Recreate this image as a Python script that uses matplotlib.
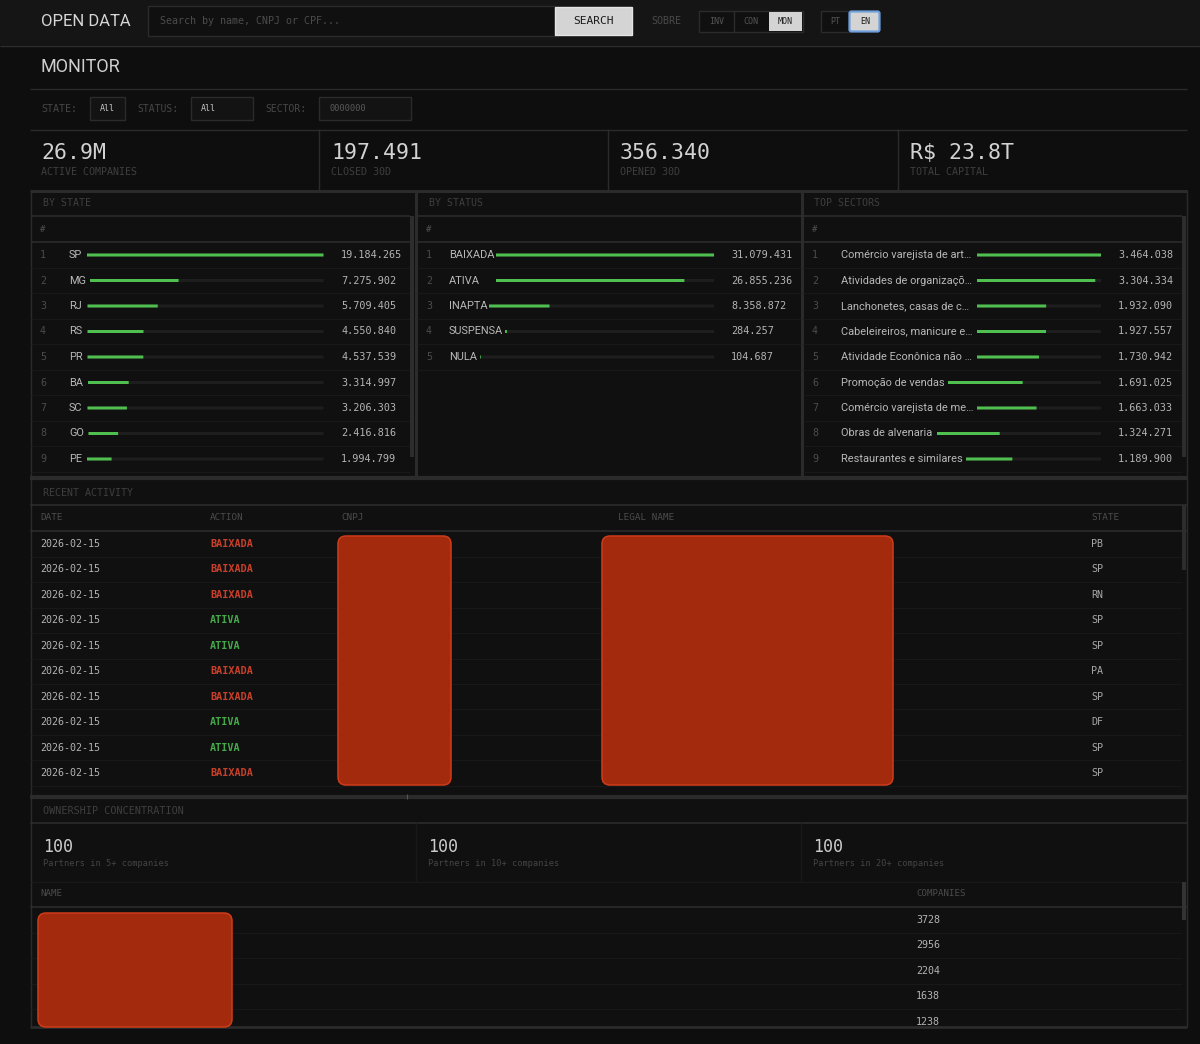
import matplotlib
matplotlib.use("Agg")
import matplotlib.pyplot as plt
from matplotlib.patches import FancyBboxPatch, Rectangle

# chart data
kpi_values = ["26.9M", "197.491", "356.340", "R$ 23.8T"]
kpi_labels = ["ACTIVE COMPANIES", "CLOSED 30D", "OPENED 30D", "TOTAL CAPITAL"]

states = ["SP", "MG", "RJ", "RS", "PR", "BA", "SC", "GO", "PE"]
state_counts = [19184265, 7275902, 5709405, 4550840, 4537539, 3314997, 3206303, 2416816, 1994799]

statuses = ["BAIXADA", "ATIVA", "INAPTA", "SUSPENSA", "NULA"]
status_counts = [31079431, 26855236, 8358872, 284257, 104687]

sectors = ["Comércio varejista de art…", "Atividades de organizaçõ…", "Lanchonetes, casas de c…",
           "Cabeleireiros, manicure e…", "Atividade Econônica não …", "Promoção de vendas",
           "Comércio varejista de me…", "Obras de alvenaria", "Restaurantes e similares"]
sector_counts = [3464038, 3304334, 1932090, 1927557, 1730942, 1691025, 1663033, 1324271, 1189900]

activity_date = "2026-02-15"
activity_actions = ["BAIXADA", "BAIXADA", "BAIXADA", "ATIVA", "ATIVA", "BAIXADA", "BAIXADA", "ATIVA", "ATIVA", "BAIXADA"]
activity_states = ["PB", "SP", "RN", "SP", "SP", "PA", "SP", "DF", "SP", "SP"]

owner_values = ["100", "100", "100"]
owner_labels = ["Partners in 5+ companies", "Partners in 10+ companies", "Partners in 20+ companies"]
owner_companies = [3728, 2956, 2204, 1638, 1238]

# track start of each row, the label column pushes it around
state_starts = [87, 90, 87.5, 87.5, 87.5, 88, 87.5, 88.5, 87]
status_starts = [496, 496, 489, 505, 480]
sector_starts = [977, 977, 977, 977, 977, 948, 977, 937, 966]

MONO = "DejaVu Sans Mono"
SANS = "Roboto"
LINE = "#2b2b2b"
THIN = "#181818"
GREEN = "#4fc04f"
RED = "#c8402a"

fig = plt.figure(figsize=(12, 10.44), dpi=100, facecolor="#0e0e0e")
ax = fig.add_axes([0, 0, 1, 1])
ax.set_xlim(0, 1200)
ax.set_ylim(1044, 0)
ax.axis("off")


def label(x, y, s, size, color="#c8c8c8", family=MONO, ha="left", **kw):
    ax.text(x, y, s, fontsize=size * 0.72, color=color, family=family, ha=ha, va="center", **kw)


def box(x0, y0, x1, y1, face="none", edge="none", lw=1.0, z=1):
    ax.add_patch(Rectangle((x0, y0), x1 - x0, y1 - y0, facecolor=face, edgecolor=edge, linewidth=lw, zorder=z))


def hline(y, x0=30, x1=1187, color=LINE, lw=1.0):
    ax.plot([x0, x1], [y, y], color=color, lw=lw, solid_capstyle="butt", zorder=2)


def vline(x, y0, y1, color=LINE, lw=1.0):
    ax.plot([x, x], [y0, y1], color=color, lw=lw, solid_capstyle="butt", zorder=2)


def redacted(x0, y0, x1, y1):
    ax.add_patch(FancyBboxPatch((x0 + 7, y0 + 7), x1 - x0 - 14, y1 - y0 - 14,
                                boxstyle="round,pad=7,rounding_size=8", facecolor="#a32a0c",
                                edgecolor="#cf3c1a", linewidth=1.1, zorder=5))


# page background and top bar
box(30, 190, 1187, 1027, face="#101010", z=0)
box(0, 0, 1200, 45, face="#151515", z=0)
hline(45.5, 0, 1200, color="#2e2e2e")
label(41, 21, "OPEN DATA", 16.6, "#d6d6d6", family=SANS)
box(148, 6, 555, 36, face="#101010", edge=LINE)
label(160, 21, "Search by name, CNPJ or CPF...", 10, "#4c4c4c")
box(555, 7, 632, 35, face="#d4d4d4", edge="#e4e4e4")
label(593.5, 21, "SEARCH", 11.3, "#1a1a1a", ha="center")
label(651, 21, "SOBRE", 10, "#4a4a4a")
box(699, 11, 803, 32, face="#101010", edge=LINE)
vline(733.5, 11, 32)
label(716.5, 21, "INV", 8.4, "#555555", ha="center")
label(751, 21, "CON", 8.4, "#555555", ha="center")
box(769, 12, 802, 31, face="#d4d4d4")
label(785.5, 21, "MON", 8.4, "#1a1a1a", ha="center")
box(821, 11, 849, 32, face="#101010", edge=LINE)
label(835.5, 21, "PT", 8.4, "#555555", ha="center")
ax.add_patch(FancyBboxPatch((851, 13), 27, 17, boxstyle="round,pad=1.5,rounding_size=2",
                            facecolor="#d4d4d4", edgecolor="#6f9fdc", linewidth=1.6, zorder=3))
label(865, 21, "EN", 8.4, "#1a1a1a", ha="center", zorder=4)

# heading and filters
label(41, 67, "MONITOR", 18, "#cfcfcf", family=SANS)
hline(88.5)
label(41, 108.5, "STATE:", 10, "#474747")
box(90, 97, 125, 120, face="#131313", edge=LINE)
label(100, 108.5, "All", 8.4, "#c4c4c4")
label(137, 108.5, "STATUS:", 9.8, "#474747")
box(191, 97, 253, 120, face="#131313", edge=LINE)
label(201, 108.5, "All", 8.4, "#c4c4c4")
label(265, 108.5, "SECTOR:", 9.8, "#474747")
box(319, 97, 411, 120, face="#131313", edge=LINE)
label(329, 108.5, "0000000", 8.6, "#5a5a5a")
hline(129.5)

# kpi strip
for x, val, name in zip([41, 331, 620, 910], kpi_values, kpi_labels):
    label(x, 153, val, 21.5, "#d2d2d2")
    label(x, 172, name, 10, "#3f3f3f")
for x in [318.5, 608, 897.5]:
    vline(x, 129, 190)

# three ranking panels
hline(190.5, lw=2.2)
hline(478, lw=3.0)
vline(30.5, 190, 1027)
vline(1186.5, 190, 1027)
vline(415.5, 190, 478, lw=2.2)
vline(801.5, 190, 478, lw=2.2)


def ranking(title, title_x, rank_x, name_x, val_x, end, names, counts, starts, x0, x1):
    label(title_x, 203.5, title, 9.9, "#3f3f3f")
    hline(216, x0, x1, lw=1.2)
    label(rank_x, 229, "#", 9, "#505050")
    hline(242, x0, x1, lw=1.2)
    top = max(counts)
    for i, (name, count, start) in enumerate(zip(names, counts, starts)):
        y = 255 + 25.5 * i
        label(rank_x, y, str(i + 1), 10, "#4c4c4c")
        label(name_x, y, name, 11, "#b8b8b8", family=SANS)
        track = ax.barh(y, end - start, left=start, height=3, color="#1e1e1e", zorder=3)
        fill = ax.barh(y, (end - start) * count / top, left=start, height=3, color=GREEN, zorder=4)
        track[0].set_snap(False)
        fill[0].set_snap(False)
        label(val_x, y, f"{count:,}".replace(",", "."), 10.1, "#b4b4b4")
        hline(y + 12.75, x0, x1, color=THIN, lw=0.8)


ranking("BY STATE", 43, 40, 69, 341, 323.5, states, state_counts, state_starts, 31, 410)
ranking("BY STATUS", 429, 426, 449, 731, 714, statuses, status_counts, status_starts, 417, 801)
ranking("TOP SECTORS", 814, 812, 841, 1118, 1101, sectors, sector_counts, sector_starts, 803, 1182)
box(410, 216, 414, 457, face="#2d2d2d", z=3)
box(1182, 216, 1186, 457, face="#2d2d2d", z=3)

# recent activity table
label(43, 492.5, "RECENT ACTIVITY", 10, "#3f3f3f")
hline(505, lw=1.2)
for x, name in zip([40, 210, 341, 618, 1091], ["DATE", "ACTION", "CNPJ", "LEGAL NAME", "STATE"]):
    label(x, 518, name, 9.3, "#4c4c4c")
hline(530.5, lw=1.2)
for i, (action, uf) in enumerate(zip(activity_actions, activity_states)):
    y = 544 + 25.44 * i
    label(40, y, activity_date, 10, "#b4b4b4")
    label(210, y, action, 10.1, RED if action == "BAIXADA" else "#45a84a", fontweight="bold")
    label(1091, y, uf, 10, "#a8a8a8")
    hline(y + 12.75, 31, 1182, color=THIN, lw=0.8)
box(1182, 505, 1186, 570, face="#2d2d2d", z=3)
redacted(338, 536, 451, 785)
redacted(602, 536, 893, 785)
hline(796.5, lw=3.0)
vline(407, 794, 799, color="#555555", lw=0.8)

# ownership concentration
label(43, 810.5, "OWNERSHIP CONCENTRATION", 10.1, "#3f3f3f")
hline(823, lw=1.2)
for x, val, name in zip([43, 428, 813], owner_values, owner_labels):
    label(x, 846.5, val, 16.6, "#cccccc")
    label(x, 864, name, 8.7, "#444444")
for x in [415.5, 800.5]:
    vline(x, 823, 882, color=THIN)
hline(882, 31, 1186, color=THIN)
label(40, 894, "NAME", 9.2, "#4c4c4c")
label(916, 894, "COMPANIES", 9.2, "#4c4c4c")
hline(906.5, lw=1.2)
for i, n in enumerate(owner_companies):
    y = 920 + 25.4 * i
    label(916, y, str(n), 10, "#b4b4b4")
    if i < 4:
        hline(y + 12.7, 31, 1182, color=THIN, lw=0.8)
box(1182, 882, 1186, 920, face="#333333", z=3)
redacted(38, 913, 232, 1027)
hline(1027, lw=2.0)

fig.savefig("out.png", dpi=100, facecolor=fig.get_facecolor())
